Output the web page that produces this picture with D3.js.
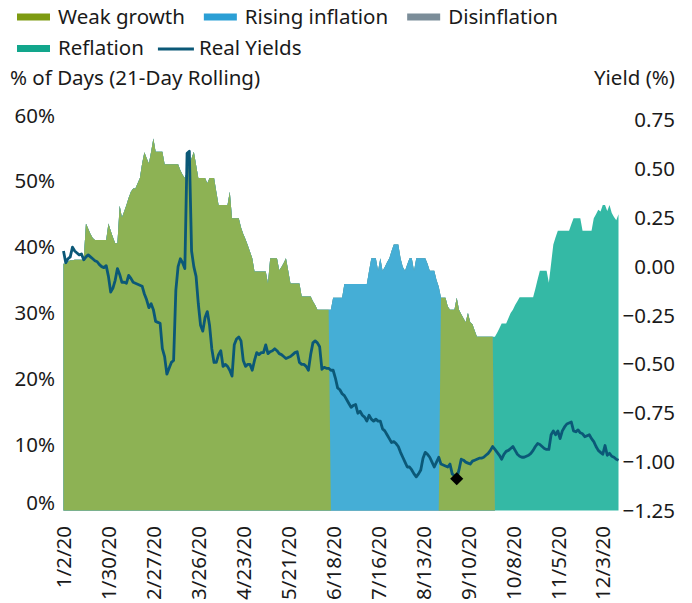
<!DOCTYPE html>
<html><head><meta charset="utf-8">
<script src="https://cdn.jsdelivr.net/npm/d3@7"></script>
<style>
html,body{margin:0;padding:0;background:#fff;}
svg text{font-family:"Noto Sans",sans-serif;fill:#1a1a1a;}
</style></head>
<body><svg id="chart" width="692" height="603"></svg>
<script>
// ---------- data ----------
const startDate = "2020-01-02";
const regimeKeys = ["Weak growth", "Rising inflation", "Disinflation", "Reflation"];
// consecutive runs of the prevailing regime: [regime, number of days]
const regimeRuns = [["Weak growth", 119], ["Rising inflation", 49], ["Weak growth", 24], ["Reflation", 56]];
// % of days (21-day rolling) of the prevailing regime
const shareOfDays = [
 37.5,37.5,37.8,38.0,38.0,38.1,38.1,38.1,38.1,38.1,
 43.6,42.8,42.0,41.4,41.1,41.1,41.1,41.1,41.1,41.1,
 43.6,42.5,41.5,40.6,40.6,46.3,44.5,45.4,46.4,47.5,
 48.4,48.9,48.9,49.7,50.5,52.7,54.4,53.5,52.7,54.5,
 56.5,54.5,54.5,54.5,54.5,52.6,52.6,52.6,52.6,52.6,
 52.6,52.6,51.7,51.0,50.5,51.5,52.5,53.5,54.5,52.5,
 50.5,50.5,50.5,50.5,49.7,50.5,50.5,50.5,48.4,46.4,
 46.4,46.4,46.4,46.4,48.4,44.4,44.4,44.4,44.4,43.0,
 42.0,41.2,40.3,39.3,38.3,36.3,36.3,36.3,36.3,36.3,
 36.3,34.5,38.3,38.3,38.3,38.3,36.5,37.0,37.6,38.3,
 36.4,34.5,34.5,34.5,34.5,34.5,32.5,32.5,32.5,32.5,
 32.5,31.8,31.2,30.5,30.5,30.5,30.5,30.5,30.5,
 30.5,32.3,32.3,32.3,32.3,32.3,34.4,34.4,34.4,34.4,
 34.4,34.4,34.4,34.4,34.4,34.4,34.4,36.4,38.3,38.3,
 38.3,36.4,38.3,36.4,37.0,37.7,38.3,39.4,40.4,40.4,
 40.4,38.3,37.0,36.4,37.4,38.3,38.3,36.4,38.3,38.3,
 38.3,38.3,38.3,37.5,36.4,36.4,36.4,35.0,34.0,
 32.3,32.3,32.3,31.0,30.5,30.5,30.5,32.3,30.5,29.8,
 29.2,28.6,30.0,28.6,28.3,27.3,26.4,26.4,26.4,26.4,
 26.4,26.4,26.4,26.4,
 26.4,27.0,27.7,28.4,28.4,28.4,29.2,30.0,30.5,31.2,
 31.8,32.4,32.4,32.4,32.4,32.4,32.4,32.4,33.7,35.1,
 36.4,36.4,36.4,36.4,34.6,37.5,40.4,41.5,42.5,42.5,
 42.5,42.5,42.5,42.5,43.5,44.4,44.4,44.4,44.4,42.5,
 42.5,42.5,42.5,42.5,44.4,45.0,45.7,45.4,46.4,46.4,
 45.5,46.4,45.2,44.6,44.1,45.0
];
// Real yields (%)
const realYields = [
 0.08,0.02,0.04,0.05,0.10,0.08,0.07,0.06,0.065,0.035,
 0.05,0.06,0.05,0.04,0.03,0.025,0.01,0.00,-0.005,0.005,
 -0.05,-0.13,-0.11,-0.07,-0.01,-0.04,-0.08,-0.08,-0.085,-0.045,
 -0.06,-0.08,-0.085,-0.09,-0.095,-0.10,-0.14,-0.17,-0.21,-0.19,
 -0.22,-0.28,-0.285,-0.29,-0.42,-0.46,-0.55,-0.52,-0.49,-0.48,
 -0.12,0.00,0.04,0.02,-0.01,0.58,0.59,0.08,0.00,-0.05,
 -0.19,-0.30,-0.33,-0.26,-0.23,-0.30,-0.42,-0.49,-0.49,-0.45,
 -0.43,-0.51,-0.50,-0.51,-0.53,-0.56,-0.40,-0.37,-0.36,-0.38,
 -0.48,-0.51,-0.50,-0.50,-0.53,-0.48,-0.44,-0.45,-0.44,-0.44,
 -0.40,-0.445,-0.435,-0.43,-0.42,-0.43,-0.445,-0.45,-0.46,-0.47,
 -0.465,-0.46,-0.45,-0.44,-0.435,-0.49,-0.50,-0.50,-0.51,-0.53,
 -0.45,-0.39,-0.38,-0.39,-0.41,-0.525,-0.515,-0.52,-0.52,-0.53,
 -0.53,-0.57,-0.62,-0.63,-0.65,-0.66,-0.68,-0.70,-0.72,-0.71,
 -0.705,-0.75,-0.74,-0.76,-0.77,-0.79,-0.76,-0.78,-0.79,-0.78,
 -0.79,-0.79,-0.83,-0.84,-0.86,-0.88,-0.90,-0.895,-0.905,-0.92,
 -0.95,-0.975,-1.00,-1.025,-1.025,-1.04,-1.06,-1.075,-1.06,-1.04,
 -0.98,-0.95,-0.96,-0.975,-1.00,-1.025,-1.00,-0.975,-1.01,-1.015,
 -1.02,-1.025,-1.01,-1.06,-1.07,-1.085,-1.04,-0.985,-0.99,-1.00,
 -1.005,-1.01,-0.995,-0.99,-0.985,-0.98,-0.98,-0.975,-0.965,-0.955,
 -0.94,-0.92,-0.935,-0.95,-0.965,-0.985,-0.96,-0.945,-0.94,-0.93,
 -0.92,-0.94,-0.96,-0.97,-0.975,-0.975,-0.97,-0.965,-0.955,-0.94,
 -0.92,-0.905,-0.91,-0.92,-0.93,-0.935,-0.935,-0.86,-0.84,-0.86,
 -0.84,-0.88,-0.84,-0.82,-0.805,-0.80,-0.795,-0.84,-0.845,-0.835,
 -0.85,-0.855,-0.87,-0.865,-0.86,-0.88,-0.895,-0.92,-0.94,-0.95,
 -0.96,-0.915,-0.965,-0.955,-0.97,-0.975,-0.985,-0.99
];
const leftTicks = [0, 10, 20, 30, 40, 50, 60];
const rightTicks = [-1.25, -1.00, -0.75, -0.50, -0.25, 0.00, 0.25, 0.50, 0.75];
const tickEvery = 20;
const leftTitle = "% of Days (21-Day Rolling)";
const rightTitle = "Yield (%)";

// ---------- styles ----------
const areaColors = {"Weak growth":"#8db254","Rising inflation":"#45aed6","Disinflation":"#7b8d99","Reflation":"#34b9a5"};
const legendColors = {"Weak growth":"#7e9b12","Rising inflation":"#2b9fd5","Disinflation":"#7b8d99","Reflation":"#12a68c"};
const lineColor = "#0b5877";
const fontSize = 20.5;

// ---------- build ----------
const dates = [];
{ let d = d3.timeParse("%Y-%m-%d")(startDate);
  while (dates.length < realYields.length) { const wd = d.getDay(); if (wd !== 0 && wd !== 6) dates.push(new Date(d)); d = d3.timeDay.offset(d, 1); } }
const regimeOfDay = [];
regimeRuns.forEach(([k, n]) => { for (let j = 0; j < n; j++) regimeOfDay.push(k); });
const rows = dates.map((d, i) => { const r = {date: d}; regimeKeys.forEach(k => r[k] = regimeOfDay[i] === k ? shareOfDays[i] / 100 : 0); return r; });

const svg = d3.select("#chart");
const x = d3.scalePoint().domain(dates).range([63.5, 618.5]);
const yL = d3.scaleLinear().domain([0, 0.6]).range([510.5, 115.5]);
const yR = d3.scaleLinear().domain([-1.25, 0.75]).range([511, 120]);

// stacked areas; each filled down to the baseline and drawn top-of-stack first to avoid seams
const series = d3.stack().keys(regimeKeys)(rows);
const area = d3.area().x(d => x(d.data.date)).y0(yL(0)).y1(d => yL(d[1]));
svg.append("g").selectAll("path").data(series.slice().reverse()).join("path")
  .attr("d", area).attr("fill", d => areaColors[d.key]);

const line = d3.line().x((d, i) => x(dates[i])).y(d => yR(d));
svg.append("path").datum(realYields).attr("d", line)
  .attr("fill", "none").attr("stroke", lineColor).attr("stroke-width", 2.8).attr("stroke-linejoin", "round");

const mi = d3.minIndex(realYields);
svg.append("path").attr("d", d3.symbol(d3.symbolDiamond2, 110)())
  .attr("transform", `translate(${x(dates[mi])},${yR(realYields[mi])})`).attr("fill", "#000");

// axes
const gL = svg.append("g").attr("transform", "translate(55,0)")
  .call(d3.axisLeft(yL).tickValues(leftTicks.map(v => v / 100)).tickFormat(d3.format(".0%")).tickSize(0).tickPadding(0));
gL.select(".domain").remove();
gL.selectAll("text").attr("font-size", fontSize).attr("font-family", null).attr("fill", "#1a1a1a")
  .attr("dy", d => d === 0 ? "-0.05em" : "0.32em");

const gR = svg.append("g").attr("transform", "translate(675,0)")
  .call(d3.axisRight(yR).tickValues(rightTicks).tickFormat(d3.format(".2f")).tickSize(0).tickPadding(0));
gR.select(".domain").remove();
gR.selectAll("text").attr("font-size", fontSize).attr("font-family", null).attr("fill", "#1a1a1a")
  .attr("text-anchor", "end").attr("dy", "0.32em");

const gX = svg.append("g").attr("transform", "translate(0,526)")
  .call(d3.axisBottom(x).tickValues(dates.filter((d, i) => i % tickEvery === 0)).tickFormat(d3.timeFormat("%-m/%-d/%y")).tickSize(0).tickPadding(0));
gX.select(".domain").remove();
gX.selectAll("text").attr("font-size", fontSize).attr("font-family", null).attr("fill", "#1a1a1a")
  .attr("text-anchor", "end").attr("transform", "rotate(-90)").attr("x", 0).attr("y", 0).attr("dy", "0.35em");

// titles
svg.append("text").attr("x", 10).attr("y", 85).attr("font-size", fontSize).text(leftTitle);
svg.append("text").attr("x", 675).attr("y", 85).attr("font-size", fontSize).attr("text-anchor", "end").text(rightTitle);

// legend
const legendItems = regimeKeys.map(k => ({name: k, type: "rect"})).concat([{name: "Real Yields", type: "line"}]);
let lx = 17, ly = 17;
legendItems.forEach((it, idx) => {
  if (idx === 3) { lx = 17; ly = 48.5; }
  const g = svg.append("g");
  if (it.type === "rect") g.append("rect").attr("x", lx).attr("y", ly - 3.5).attr("width", 33).attr("height", 7).attr("fill", legendColors[it.name]);
  else g.append("line").attr("x1", lx).attr("x2", lx + 36).attr("y1", ly + 0.5).attr("y2", ly + 0.5).attr("stroke", lineColor).attr("stroke-width", 3);
  const t = g.append("text").attr("x", lx + 41).attr("y", ly + 6.5).attr("font-size", fontSize).text(it.name);
  lx += 41 + t.node().getComputedTextLength() + (idx === 3 ? 14 : 19);
});
</script></body></html>
